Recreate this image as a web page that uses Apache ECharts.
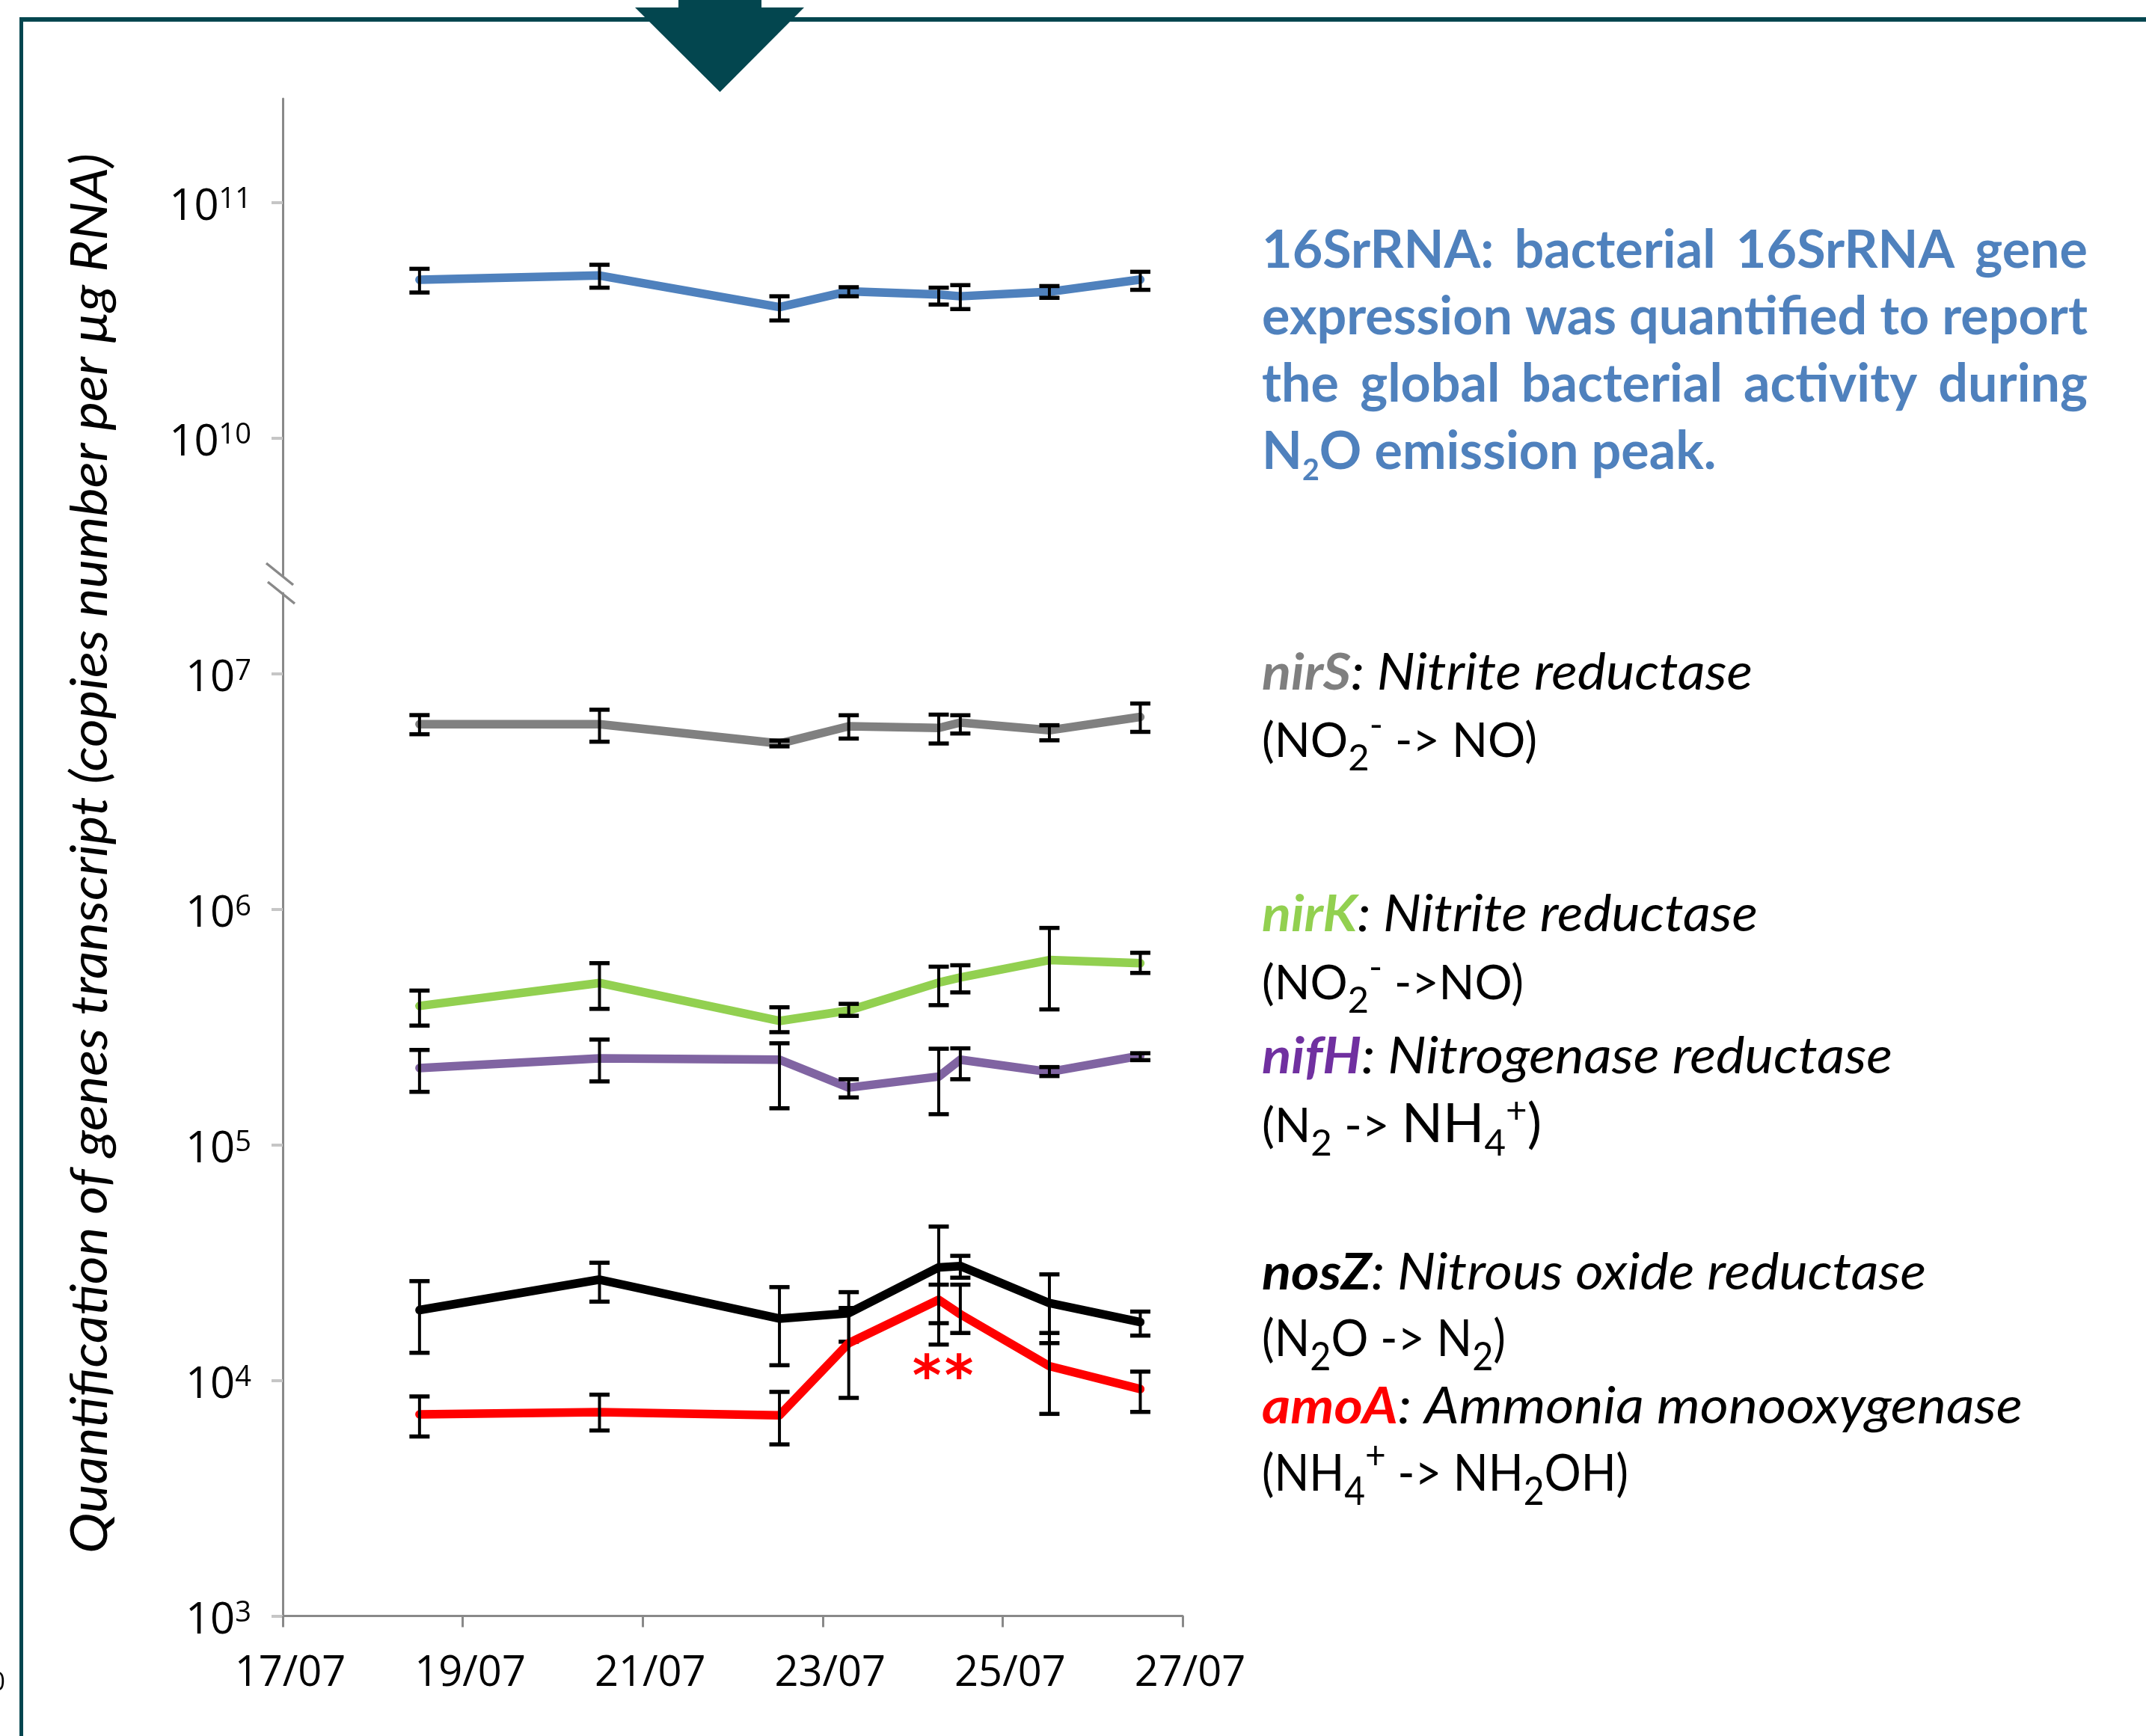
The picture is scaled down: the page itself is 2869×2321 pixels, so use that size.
<!DOCTYPE html>
<html><head><meta charset="utf-8">
<script src="https://cdn.jsdelivr.net/npm/echarts@6/dist/echarts.min.js"></script>
<style>html,body{margin:0;padding:0;background:#fff}#c{width:2869px;height:2321px}</style>
</head><body><div id="c"></div>
<script>
// ---------------- DATA ----------------
const days = [18.52, 20.52, 22.52, 23.29, 24.29, 24.53, 25.52, 26.53];   // sampling dates (day of July)
const xTickValues = [17, 19, 21, 23, 25, 27];
const xTickLabels = ['17/07', '19/07', '21/07', '23/07', '25/07', '27/07'];
const upperTickValues = [1e10, 1e11];
const lowerTickValues = [1e3, 1e4, 1e5, 1e6, 1e7];

const rRNA16S      = [4.69e10, 4.89e10, 3.59e10, 4.19e10, 4.06e10, 3.99e10, 4.17e10, 4.70e10];
const rRNA16S_low  = [4.14e10, 4.34e10, 3.15e10, 3.99e10, 3.68e10, 3.52e10, 3.93e10, 4.25e10];
const rRNA16S_high = [5.22e10, 5.43e10, 3.99e10, 4.36e10, 4.34e10, 4.45e10, 4.41e10, 5.07e10];

const nirS      = [6.11e6, 6.11e6, 5.06e6, 5.99e6, 5.89e6, 6.21e6, 5.76e6, 6.56e6];
const nirS_low  = [5.54e6, 5.15e6, 4.92e6, 5.31e6, 5.06e6, 5.58e6, 5.22e6, 5.67e6];
const nirS_high = [6.68e6, 7.04e6, 5.21e6, 6.67e6, 6.71e6, 6.67e6, 6.05e6, 7.48e6];

const nirK      = [3.89e5, 4.87e5, 3.36e5, 3.72e5, 4.89e5, 5.14e5, 6.09e5, 5.91e5];
const nirK_low  = [3.21e5, 3.78e5, 3.01e5, 3.53e5, 3.92e5, 4.44e5, 3.76e5, 5.37e5];
const nirK_high = [4.52e5, 5.91e5, 3.84e5, 3.97e5, 5.71e5, 5.79e5, 8.34e5, 6.54e5];

const nifH      = [2.12e5, 2.33e5, 2.30e5, 1.75e5, 1.95e5, 2.30e5, 2.04e5, 2.39e5];
const nifH_low  = [1.68e5, 1.86e5, 1.43e5, 1.59e5, 1.35e5, 1.90e5, 1.96e5, 2.29e5];
const nifH_high = [2.53e5, 2.80e5, 2.70e5, 1.90e5, 2.56e5, 2.57e5, 2.14e5, 2.45e5];

const nosZ      = [1.99e4, 2.68e4, 1.83e4, 1.93e4, 3.02e4, 3.06e4, 2.13e4, 1.77e4];
const nosZ_low  = [1.31e4, 2.16e4, 1.16e4, 1.46e4, 1.42e4, 2.73e4, 1.44e4, 1.55e4];
const nosZ_high = [2.64e4, 3.16e4, 2.49e4, 2.37e4, 4.50e4, 3.38e4, 2.82e4, 1.96e4];

const amoA      = [7.18e3, 7.33e3, 7.11e3, 1.44e4, 2.20e4, 1.91e4, 1.15e4, 9.19e3];
const amoA_low  = [5.78e3, 6.13e3, 5.35e3, 8.43e3, 1.75e4, 1.59e4, 7.21e3, 7.35e3];
const amoA_high = [8.55e3, 8.70e3, 8.94e3, 2.03e4, 2.55e4, 2.55e4, 1.59e4, 1.09e4];

const significantIndex = 4;   // amoA peak marked "**"

// ---------------- STYLE / LAYOUT ----------------
const TEAL = '#03464f';
const AXIS = '#898989';
const LABEL_FONT = 'Open Sans';
const TXT_FONT = 'Lato';

const genes = [
  { name: '16SrRNA', vals: rRNA16S, lo: rRNA16S_low, hi: rRNA16S_high, color: '#4f81bd', grid: 0 },
  { name: 'nirS', vals: nirS, lo: nirS_low, hi: nirS_high, color: '#808080', grid: 1 },
  { name: 'nirK', vals: nirK, lo: nirK_low, hi: nirK_high, color: '#92d050', grid: 1 },
  { name: 'nifH', vals: nifH, lo: nifH_low, hi: nifH_high, color: '#8064a2', grid: 1 },
  { name: 'nosZ', vals: nosZ, lo: nosZ_low, hi: nosZ_high, color: '#000000', grid: 1 },
  { name: 'amoA', vals: amoA, lo: amoA_low, hi: amoA_high, color: '#ff0000', grid: 1 }
];

// text measuring helpers
const mctx = document.createElement('canvas').getContext('2d');
function fontStr(f) { return (f.style || 'normal') + ' ' + (f.weight || 'normal') + ' ' + f.size + 'px ' + (f.family || TXT_FONT); }
function mWidth(f, t) { mctx.font = fontStr(f); mctx.textBaseline = 'alphabetic'; return mctx.measureText(t).width; }
function baseOff(f) { mctx.font = fontStr(f); mctx.textBaseline = 'middle'; const m = mctx.measureText('H'); mctx.textBaseline = 'alphabetic'; return m.actualBoundingBoxDescent; }
function textEl(t, f, fill, x, baseline, sx) {
  return { type: 'text', x: x, y: baseline - baseOff(f), scaleX: sx, silent: true,
    style: { text: t, font: fontStr(f), fill: fill, textAlign: 'left', textVerticalAlign: 'middle' } };
}
// segments laid out one after another, horizontally scaled to a target width
function lineEls(segs, x0, base, targetW) {
  const w = segs.map(s => mWidth(s.f, s.t));
  const tot = w.reduce((a, b) => a + b, 0);
  const sx = targetW ? targetW / tot : 1;
  let x = x0; const out = [];
  segs.forEach((s, i) => { out.push(textEl(s.t, s.f, s.fill || '#000', x, base + (s.dy || 0), sx)); x += w[i] * sx; });
  return out;
}
// justified words
function justifyEls(words, f, fill, x0, base, targetW, sx) {
  const w = words.map(t => mWidth(f, t) * sx);
  const gap = (targetW - w.reduce((a, b) => a + b, 0)) / (words.length - 1);
  let x = x0; const out = [];
  words.forEach((t, i) => { out.push(textEl(t, f, fill, x, base, sx)); x += w[i] + gap; });
  return out;
}

const graphics = [];
// frame and arrow
graphics.push({ type: 'line', silent: true, shape: { x1: 27, y1: 26, x2: 2869, y2: 26 }, style: { stroke: TEAL, lineWidth: 6 } });
graphics.push({ type: 'line', silent: true, shape: { x1: 28.5, y1: 23, x2: 28.5, y2: 2321 }, style: { stroke: TEAL, lineWidth: 5 } });
graphics.push({ type: 'rect', silent: true, shape: { x: 907, y: -5, width: 111, height: 17 }, style: { fill: TEAL } });
graphics.push({ type: 'polygon', silent: true, shape: { points: [[849, 10], [1075, 10], [962.5, 123]] }, style: { fill: TEAL } });
// axis break marks
graphics.push({ type: 'line', silent: true, shape: { x1: 356, y1: 753, x2: 392, y2: 782 }, style: { stroke: AXIS, lineWidth: 3.5 } });
graphics.push({ type: 'line', silent: true, shape: { x1: 358, y1: 778, x2: 394, y2: 807 }, style: { stroke: AXIS, lineWidth: 3.5 } });
// clipped glyph at left edge
graphics.push({ type: 'text', silent: true, x: 7, y: 2250, style: { text: '0', font: 'normal normal 34px ' + LABEL_FONT, fill: '#000', textAlign: 'right', textVerticalAlign: 'middle' } });

// y axis title (rotated)
(function () {
  const f = { size: 68, style: 'italic', family: TXT_FONT };
  const t = 'Quantification of genes transcript (copies number per \u00b5g RNA)';
  const sx = 1872 / mWidth(f, t);
  graphics.push({ type: 'text', silent: true, x: 143 - baseOff(f), y: 1141, rotation: Math.PI / 2, scaleX: sx,
    style: { text: t, font: fontStr(f), fill: '#000', textAlign: 'center', textVerticalAlign: 'middle' } });
})();

// 16SrRNA description (bold, blue, justified)
(function () {
  const f = { size: 71, weight: 'bold', family: TXT_FONT };
  const fill = '#4f81bd';
  const X0 = 1687, W = 1104;
  const sx = W / mWidth(f, 'expression was quantified to report');
  graphics.push(...justifyEls(['16SrRNA:', 'bacterial', '16SrRNA', 'gene'], f, fill, X0, 358, W, sx));
  graphics.push(...justifyEls(['expression', 'was', 'quantified', 'to', 'report'], f, fill, X0, 447, W, sx));
  graphics.push(...justifyEls(['the', 'global', 'bacterial', 'activity', 'during'], f, fill, X0, 537, W, sx));
  const fs = { size: 40, weight: 'bold', family: TXT_FONT };
  let x = X0;
  [['N', f, 0], ['2', fs, 15], ['O emission peak.', f, 0]].forEach(s => {
    graphics.push(textEl(s[0], s[1], fill, x, 627 + s[2], sx)); x += mWidth(s[1], s[0]) * sx;
  });
})();

// legend-like gene descriptions
(function () {
  const X0 = 1687;
  const BI = { size: 67, style: 'italic', weight: 'bold' };
  const I = { size: 67, style: 'italic' };
  function head(name, color, desc, base, W) {
    graphics.push(...lineEls([{ t: name, f: BI, fill: color }, { t: ': ', f: I }, { t: desc, f: I }], X0, base, W));
  }
  const R = s => ({ size: s });
  const sub = (t, s) => ({ t: t, f: R(Math.round(s * 0.78)), dy: Math.round(s * 0.28) });
  const sup = (t, s) => ({ t: t, f: R(Math.round(s * 0.78)), dy: -Math.round(s * 0.42) });
  head('nirS', '#7f7f7f', 'Nitrite reductase', 922, 656);
  graphics.push(...lineEls([{ t: '(NO', f: R(63) }, sub('2', 63), sup('-', 63), { t: ' -> NO)', f: R(63) }], X0, 1012, 368));
  head('nirK', '#92d050', 'Nitrite reductase', 1245, 663);
  graphics.push(...lineEls([{ t: '(NO', f: R(63) }, sub('2', 63), sup('-', 63), { t: ' ->NO)', f: R(63) }], X0, 1336, 350));
  head('nifH', '#7030a0', 'Nitrogenase reductase', 1435, 843);
  graphics.push(...lineEls([{ t: '(N', f: R(63) }, sub('2', 63), { t: ' -> ', f: R(63) }, { t: 'NH', f: R(72) }, sub('4', 63), sup('+', 63), { t: ')', f: R(72) }], X0, 1527, 374));
  head('nosZ', '#000000', 'Nitrous oxide reductase', 1724, 888);
  graphics.push(...lineEls([{ t: '(N', f: R(68) }, sub('2', 68), { t: 'O -> N', f: R(68) }, sub('2', 68), { t: ')', f: R(68) }], X0, 1813, 326));
  head('amoA', '#ff0000', 'Ammonia monooxygenase', 1903, 1017);
  graphics.push(...lineEls([{ t: '(NH', f: R(68) }, sub('4', 68), sup('+', 68), { t: ' -> NH', f: R(68) }, sub('2', 68), { t: 'OH)', f: R(68) }], X0, 1993, 490));
})();

// ---------------- CHART ----------------
function errItem(params, api) {
  const x = api.value(0);
  const pLo = api.coord([x, api.value(1)]);
  const pHi = api.coord([x, api.value(2)]);
  const hw = 13.5;
  const st = { stroke: '#000', lineWidth: 4 };
  const ct = { stroke: '#000', lineWidth: 5.5 };
  return { type: 'group', children: [
    { type: 'line', shape: { x1: pLo[0], y1: pLo[1], x2: pHi[0], y2: pHi[1] }, style: st },
    { type: 'line', shape: { x1: pLo[0] - hw, y1: pLo[1], x2: pLo[0] + hw, y2: pLo[1] }, style: ct },
    { type: 'line', shape: { x1: pHi[0] - hw, y1: pHi[1], x2: pHi[0] + hw, y2: pHi[1] }, style: ct }
  ] };
}

const series = [];
genes.forEach((g, i) => {
  const s = {
    type: 'line', name: g.name, xAxisIndex: g.grid, yAxisIndex: g.grid,
    data: days.map((d, k) => [d, g.vals[k]]),
    symbol: 'none', silent: true, z: 2 + 2 * i,
    lineStyle: { color: g.color, width: 11.5, cap: 'round', join: 'round' },
    itemStyle: { color: g.color }
  };
  if (g.name === 'amoA') {
    s.markPoint = {
      symbol: 'circle', symbolSize: 1, silent: true,
      itemStyle: { color: 'rgba(0,0,0,0)' },
      label: { show: true, formatter: '*', color: '#ff0000', fontSize: 74, fontWeight: 'bold', fontFamily: 'DejaVu Sans' },
      data: [
        { coord: [days[significantIndex], amoA[significantIndex]], label: { offset: [-16, 108] } },
        { coord: [days[significantIndex], amoA[significantIndex]], label: { offset: [27, 108] } }
      ]
    };
  }
  series.push(s);
  series.push({
    type: 'custom', name: g.name + ' SD', xAxisIndex: g.grid, yAxisIndex: g.grid, silent: true, z: 3 + 2 * i,
    data: days.map((d, k) => [d, g.lo[k], g.hi[k]]),
    encode: { x: 0, y: [1, 2] }, renderItem: errItem
  });
});

function powLabel(v) {
  const l = Math.log10(v); const e = Math.round(l);
  return Math.abs(l - e) < 1e-6 ? '{b|10}{s|' + e + '}' : '';
}
const yLabel = (vals) => ({
  customValues: vals, formatter: powLabel, margin: 42, padding: [14, 0, 0, 0],
  rich: {
    b: { fontSize: 58, fontFamily: LABEL_FONT, color: '#000', lineHeight: 58 },
    s: { fontSize: 38, fontFamily: LABEL_FONT, color: '#000', lineHeight: 30, verticalAlign: 'top' }
  }
});
const yTick = (vals) => ({ show: true, customValues: vals, length: 15, lineStyle: { color: '#c6c6c6', width: 4 } });

const option = {
  animation: false,
  backgroundColor: '#ffffff',
  grid: [
    { left: 378, right: 1288, top: 132, height: 637, outerBoundsMode: 'none', containLabel: false },
    { left: 378, right: 1288, top: 793, bottom: 160.5, outerBoundsMode: 'none', containLabel: false }
  ],
  xAxis: [
    { gridIndex: 0, type: 'value', min: 17, max: 27, show: false },
    { gridIndex: 1, type: 'value', min: 17, max: 27,
      axisLine: { lineStyle: { color: AXIS, width: 3 } },
      axisTick: { show: true, customValues: xTickValues, length: 15, lineStyle: { color: AXIS, width: 3 } },
      axisLabel: { customValues: xTickValues, formatter: v => xTickLabels[xTickValues.indexOf(Math.round(v))] || '',
        margin: 50, padding: [0, 0, 0, 20], fontSize: 56, fontFamily: LABEL_FONT, color: '#000' },
      splitLine: { show: false } }
  ],
  yAxis: [
    { gridIndex: 0, type: 'log', min: Math.pow(10, 9.4165), max: Math.pow(10, 11.44),
      axisLine: { show: true, lineStyle: { color: AXIS, width: 3 } },
      axisTick: yTick(upperTickValues), axisLabel: yLabel(upperTickValues),
      splitLine: { show: false }, minorTick: { show: false } },
    { gridIndex: 1, type: 'log', min: 1000, max: Math.pow(10, 7.3426),
      axisLine: { show: true, lineStyle: { color: AXIS, width: 3 } },
      axisTick: yTick(lowerTickValues), axisLabel: yLabel(lowerTickValues),
      splitLine: { show: false }, minorTick: { show: false } }
  ],
  series: series,
  graphic: { elements: graphics }
};

const chart = echarts.init(document.getElementById('c'), null, { renderer: 'canvas', width: 2869, height: 2321 });
chart.setOption(option);
</script>
</body></html>
